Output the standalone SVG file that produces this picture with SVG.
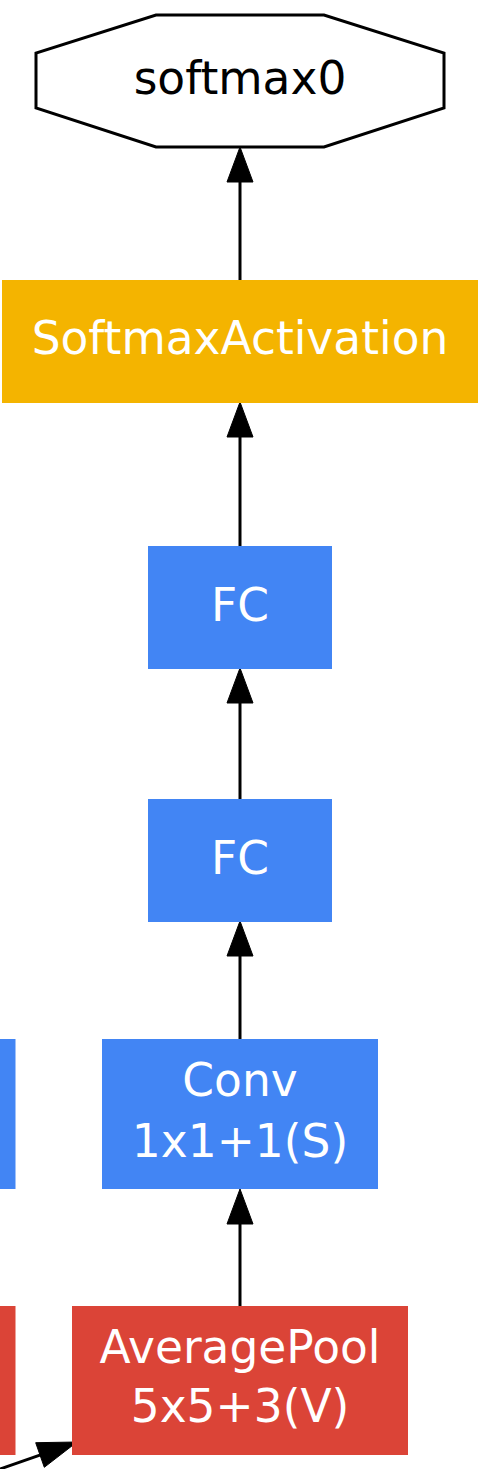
<svg xmlns="http://www.w3.org/2000/svg" width="484" height="1469" viewBox="0 0 484 1469">
<style>
text{font-family:"DejaVu Sans",sans-serif;font-size:45.5px;text-anchor:middle}
.w{fill:#ffffff}
.b{fill:#4285f4;stroke:#4285f4}
.r{fill:#db4437;stroke:#db4437}
.y{fill:#f4b400;stroke:#f4b400}
.e{stroke:#000;stroke-width:3;fill:none}
.h{fill:#000;stroke:#000;stroke-width:1}
</style>
<rect width="484" height="1469" fill="#fff"/>
<g id="connectors">
<line class="e" x1="240" y1="280" x2="240" y2="180"/>
<polygon class="h" points="240,147 227,182 253,182"/>
<line class="e" x1="240" y1="546" x2="240" y2="435"/>
<polygon class="h" points="240,402 227,437 253,437"/>
<line class="e" x1="240" y1="799" x2="240" y2="701"/>
<polygon class="h" points="240,668 227,703 253,703"/>
<line class="e" x1="240" y1="1039" x2="240" y2="954"/>
<polygon class="h" points="240,921 227,956 253,956"/>
<line class="e" x1="240" y1="1306" x2="240" y2="1222"/>
<polygon class="h" points="240,1189 227,1224 253,1224"/>
<line class="e" x1="-10" y1="1472.5" x2="42" y2="1454.3"/>
<polygon class="h" points="77,1442 35.7,1442.7 44.3,1467.3"/>
</g>
<g id="softmax0">
<polygon points="36,53 36,108 156,147 324,147 444,108 444,53 324,15 156,15" fill="#fff" stroke="#000" stroke-width="3"/>
<text x="240" y="94" fill="#000">softmax0</text>
</g>
<g id="softmaxactivation">
<rect class="y" x="2.5" y="280.5" width="475" height="122"/>
<text class="w" x="240" y="354">SoftmaxActivation</text>
</g>
<g id="fc1">
<rect class="b" x="148.5" y="546.5" width="183" height="122"/>
<text class="w" x="240" y="621">FC</text>
</g>
<g id="fc2">
<rect class="b" x="148.5" y="799.5" width="183" height="122"/>
<text class="w" x="240" y="874">FC</text>
</g>
<g id="conv">
<rect class="b" x="102.5" y="1039.5" width="275" height="149"/>
<text class="w" x="240" y="1096">Conv</text>
<text class="w" x="240" y="1157">1x1+1(S)</text>
</g>
<g id="conv-left">
<rect class="b" x="-10" y="1039.5" width="25" height="149"/>
</g>
<g id="averagepool">
<rect class="r" x="72.5" y="1306.5" width="335" height="148"/>
<text class="w" x="240" y="1363">AveragePool</text>
<text class="w" x="240" y="1422">5x5+3(V)</text>
</g>
<g id="pool-left">
<rect class="r" x="-10" y="1306.5" width="25" height="148"/>
</g>
</svg>
